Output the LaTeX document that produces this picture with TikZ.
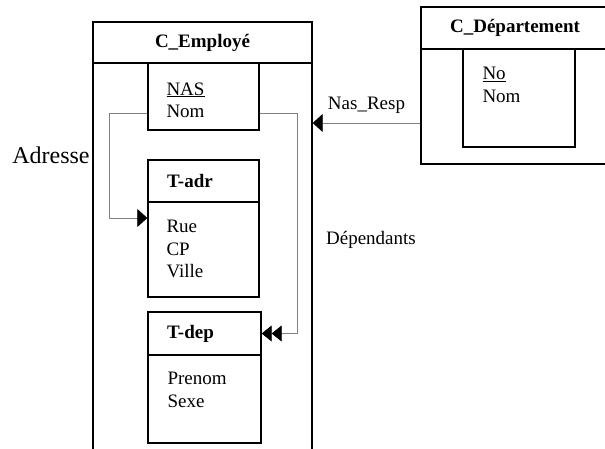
\documentclass[tikz,border=0pt]{standalone}
\usepackage{fontspec}
\setmainfont{Liberation Serif}
\usetikzlibrary{positioning}
\usetikzlibrary{arrows.meta}

\begin{document}
\begin{tikzpicture}[x=1pt, y=-1pt,
    every node/.style={font=\fontsize{19}{22.5}\selectfont},
    box/.style={draw, line width=1.4pt, inner sep=0pt},
    typeHead/.style={box, align=left, text width=#1-38pt, inner xsep=19pt, font=\fontsize{19}{22.5}\selectfont\bfseries},
    attrs/.style={align=left, inner sep=0pt, anchor=north west},
    link/.style={draw=gray, line width=0.8pt, -{Triangle[length=10pt, width=18pt, color=black]}},
    linkMany/.style={draw=gray, line width=0.8pt, -{Triangle[length=10pt, width=16pt, color=black]Triangle[length=10pt, width=16pt, color=black]}}]
  \clip (0,0) rectangle (605,448);

  \node[box, minimum width=219pt, minimum height=41pt, font=\fontsize{19}{22.5}\selectfont\bfseries] (cEmpHead) at (202.5,42.5) {C\_Employé};
  \node[box, minimum width=219pt, minimum height=407pt] (cEmpBody) at (202.5,266.5) {};

  \node[box, minimum width=111pt, minimum height=67pt] (nas) at (203.5,96.5) {};
  \node[attrs, below right=20pt and 19pt of nas.north west] (nasAttrs) {\underline{NAS}\\Nom};

  \node[typeHead=111pt, minimum height=42pt] (tAdrHead) at (203.5,181) {T-adr};
  \node[box, minimum width=111pt, minimum height=95pt] (tAdrBody) at (203.5,249.5) {};
  \node[attrs, below right=19pt and 19pt of tAdrBody.north west] (adrAttrs) {Rue\\CP\\Ville};

  \node[typeHead=113pt, minimum height=43pt] (tDepHead) at (204.5,333.5) {T-dep};
  \node[box, minimum width=113pt, minimum height=88pt] (tDepBody) at (204.5,399) {};
  \node[attrs, below right=18pt and 20pt of tDepBody.north west] (depAttrs) {Prenom\\Sexe};

  \node[box, minimum width=188pt, minimum height=42pt, font=\fontsize{19}{22.5}\selectfont\bfseries] (cDeptHead) at (515,28) {C\_Département};
  \node[box, minimum width=188pt, minimum height=115pt] (cDeptBody) at (515,106.5) {};
  \node[box, minimum width=112pt, minimum height=98pt] (deptKey) at (519,98) {};
  \node[attrs, below right=19pt and 20pt of deptKey.north west] (deptAttrs) {\underline{No}\\Nom};

  \node[font=\fontsize{24}{28}\selectfont] (adresse) at (51,155) {Adresse};
  \node (dependants) at (371,240) {Dépendants};

  \draw[link] ([yshift=-16.5pt]nas.west) -- ++(-38,0) |- ([yshift=31.5pt]tAdrBody.west);
  \draw[linkMany] ([yshift=-16.5pt]nas.east) -- ++(38,0) |- (tDepHead.east);
  \draw[link] ([yshift=-16.5pt]cDeptBody.west) -- node[above=6pt] {Nas\_Resp} ([yshift=-16.5pt]cDeptBody.west -| cEmpBody.east);

\end{tikzpicture}
\end{document}
